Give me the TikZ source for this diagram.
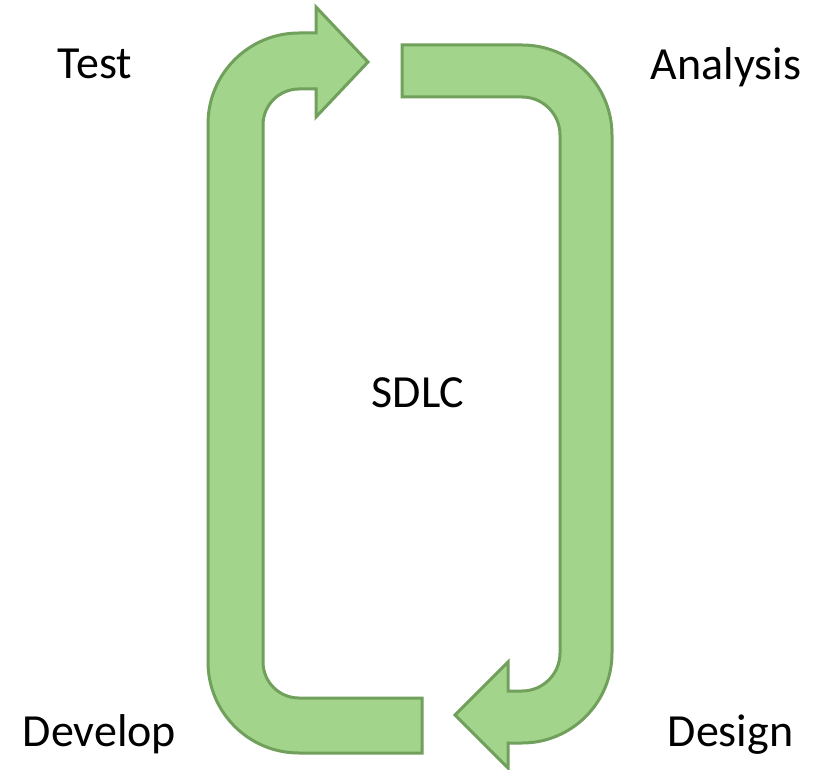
\documentclass[tikz,border=0pt]{standalone}
\usepackage{fontspec}
\setmainfont{Carlito}
\definecolor{bandfill}{HTML}{A3D48C}
\definecolor{bandline}{HTML}{70A05B}
\tikzset{
  bentarrow/.style={fill=bandfill, draw=bandline, line width=3pt, line join=miter},
  phase/.style={anchor=base, font=\fontsize{46}{54}\selectfont, inner sep=0pt}
}
\begin{document}
\begin{tikzpicture}[x=1pt,y=1pt]
  \useasboundingbox[fill=white] (0,0) rectangle (813,769);

  % left bent arrow: Develop -> Test
  \draw[bentarrow] (422,16) -- (299,16)
    arc[start angle=270,end angle=180,radius=91] -- (208,645)
    arc[start angle=180,end angle=90,radius=91] -- (316,736)
    -- (316,762) -- (368,707) -- (316,652) -- (316,680) -- (299,680)
    arc[start angle=90,end angle=180,radius=36] -- (263,107)
    arc[start angle=180,end angle=270,radius=36] -- (422,71) -- cycle;

  % right bent arrow: Analysis -> Design
  \draw[bentarrow] (402,724) -- (522,724)
    arc[start angle=90,end angle=0,radius=90] -- (612,116)
    arc[start angle=0,end angle=-90,radius=90] -- (508,26)
    -- (508,1) -- (455,54) -- (508,107) -- (508,78) -- (522,78)
    arc[start angle=-90,end angle=0,radius=38] -- (560,634)
    arc[start angle=0,end angle=90,radius=38] -- (402,672) -- cycle;

  % phase labels
  \node[phase] (test)     at (95,690)  {Test};
  \node[phase] (analysis) at (726,689) {Analysis};
  \node[phase] (sdlc)     at (418,361) {SDLC};
  \node[phase] (develop)  at (99.5,23) {Develop};
  \node[phase] (design)   at (730.5,23) {Design};
\end{tikzpicture}
\end{document}
